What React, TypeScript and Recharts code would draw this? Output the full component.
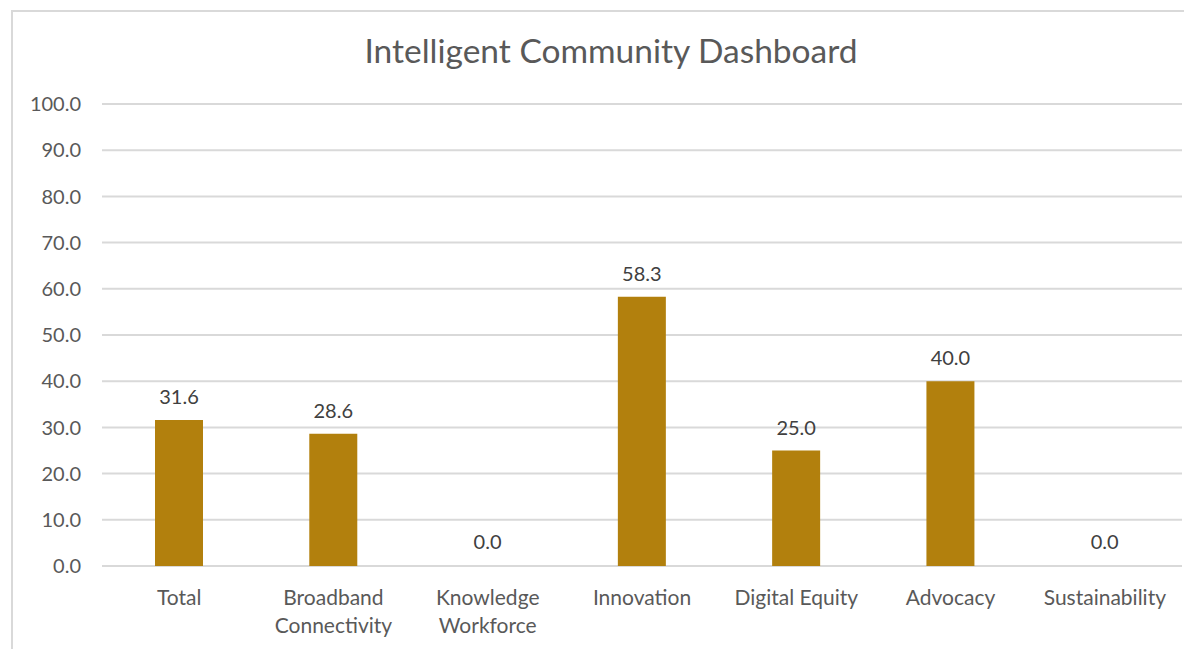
import { BarChart, Bar, XAxis, YAxis, CartesianGrid, LabelList, Rectangle } from 'recharts'

const categories = ['Total', 'Broadband Connectivity', 'Knowledge Workforce', 'Innovation', 'Digital Equity', 'Advocacy', 'Sustainability']
const tickLines = [['Total'], ['Broadband', 'Connectivity'], ['Knowledge', 'Workforce'], ['Innovation'], ['Digital Equity'], ['Advocacy'], ['Sustainability']]
const scores = [31.6, 28.6, 0.0, 58.3, 25.0, 40.0, 0.0]
const yTicks = [0, 10, 20, 30, 40, 50, 60, 70, 80, 90, 100]

const data = categories.map((name, i) => ({ name, score: scores[i] }))

const FONT = 'Lato, "Open Sans", sans-serif'
const TEXT = '#595959'

function CategoryTick({ x, y, payload, index }: any) {
  const lines = tickLines[index] ?? [payload.value]
  return (
    <g transform={`translate(${x},${y})`}>
      {lines.map((line: string, i: number) => (
        <text key={i} x={0} y={16 + i * 28} dy="0.71em" textAnchor="middle" fill={TEXT} fontSize={21} fontFamily={FONT}>
          {line}
        </text>
      ))}
    </g>
  )
}

// zero values still get a label, but no visible bar
function ScoreBar(props: any) {
  if (!props.payload || props.payload.score <= 0) return <g />
  return <Rectangle {...props} />
}

export default function App() {
  return (
    <div style={{ position: 'relative', width: 1184, height: 641, background: '#fff' }}>
      <div style={{
        position: 'absolute', left: 3, top: 2, width: 1200, height: 700,
        borderLeft: '2px solid #d9d9d9', borderTop: '2px solid #d9d9d9', boxSizing: 'border-box'
      }} />
      <div style={{
        position: 'absolute', left: 0, width: 1206, top: 22, textAlign: 'center',
        fontFamily: FONT, fontSize: 33.5, color: TEXT
      }}>
        Intelligent Community Dashboard
      </div>
      <div style={{ position: 'absolute', left: 0, top: 0 }}>
        <BarChart width={1184} height={641} data={data} margin={{ top: 96, right: 10, left: 0, bottom: 13 }}>
          <CartesianGrid vertical={false} stroke="#d9d9d9" strokeWidth={2} />
          <XAxis dataKey="name" height={70} axisLine={false} tickLine={false} interval={0} tick={<CategoryTick />} />
          <YAxis
            width={94}
            domain={[0, 100]}
            ticks={yTicks}
            axisLine={false}
            tickLine={false}
            tickSize={0}
            tickMargin={21}
            tickFormatter={(v: number) => v.toFixed(1)}
            tick={{ fill: TEXT, fontSize: 20, fontFamily: FONT }}
          />
          <Bar dataKey="score" fill="#B2800D" barSize={48} minPointSize={1} shape={<ScoreBar />} isAnimationActive={false}>
            <LabelList
              dataKey="score"
              position="top"
              offset={16}
              formatter={(v: any) => Number(v).toFixed(1)}
              style={{ fill: '#404040', fontSize: 20, fontFamily: FONT }}
            />
          </Bar>
        </BarChart>
      </div>
    </div>
  )
}
